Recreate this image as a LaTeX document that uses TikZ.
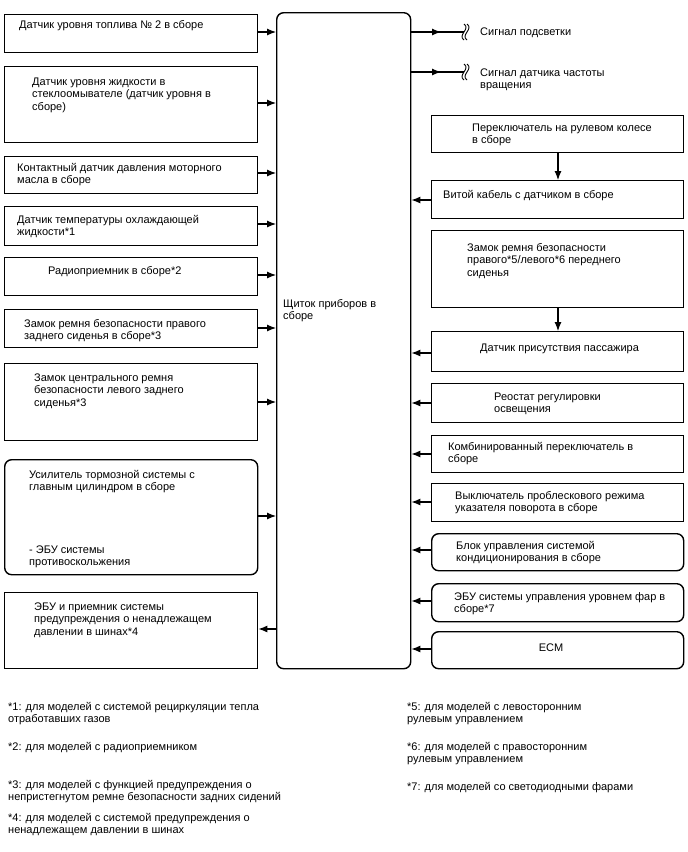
\documentclass[tikz,border=0pt]{standalone}
\usepackage{fontspec}
\setmainfont{Liberation Sans}
\usetikzlibrary{arrows.meta}
\newcommand{\ml}[1]{\begin{tabular}[t]{@{}l@{}}#1\end{tabular}}
\newcommand{\bx}[6][]{\node[box,#1,minimum width={#5-#3},minimum height={#6-#4}] (#2) at (#3,#4) {};}
\newcommand{\brk}[2]{%
  \draw[thin line] (#1+1,#2-8) .. controls (#1+8,#2-3) and (#1-6,#2+3) .. (#1+1,#2+8);
  \draw[thin line] (#1+4,#2-8) .. controls (#1+11,#2-3) and (#1-3,#2+3) .. (#1+4,#2+8);}
\begin{document}
\begin{tikzpicture}[x=1pt,y=-1pt,
  box/.style={draw, line width=1.4pt, inner sep=0pt, anchor=north west},
  rbox/.style={rounded corners=7pt},
  txt/.style={anchor=base west, inner sep=0pt, font=\fontsize{11}{12.8}\selectfont},
  arr/.style={line width=1.1pt, -{Latex[length=9pt,width=7pt]}},
  thin line/.style={line width=0.9pt},
  wire/.style={line width=1.1pt}]
\useasboundingbox (0,0) rectangle (688,852);
% central
\bx[rbox]{c}{276}{12}{410}{668}
\node[txt] (ct) at (283,307) {\ml{Щиток приборов в\\сборе}};
% left boxes
\bx{l1}{4}{14}{257}{52}
\node[txt] (tl1) at (19,28) {\ml{Датчик уровня топлива № 2 в сборе}};
\bx{l2}{4}{66}{257}{142}
\node[txt] (tl2) at (32,85) {\ml{Датчик уровня жидкости в\\стеклоомывателе (датчик уровня в\\сборе)}};
\bx{l3}{4}{156}{257}{193}
\node[txt] (tl3) at (17,171) {\ml{Контактный датчик давления моторного\\масла в сборе}};
\bx{l4}{4}{206}{257}{245}
\node[txt] (tl4) at (17,223) {\ml{Датчик температуры охлаждающей\\жидкости*1}};
\bx{l5}{4}{257}{257}{295}
\node[txt] (tl5) at (48,274) {\ml{Радиоприемник в сборе*2}};
\bx{l6}{4}{309}{257}{347}
\node[txt] (tl6) at (24,327) {\ml{Замок ремня безопасности правого\\заднего сиденья в сборе*3}};
\bx{l7}{4}{363}{257}{440}
\node[txt] (tl7) at (34,381) {\ml{Замок центрального ремня\\безопасности левого заднего\\сиденья*3}};
\bx[rbox]{l8}{4}{459}{257}{574}
\node[txt] (tl8) at (29,478) {\ml{Усилитель тормозной системы с\\главным цилиндром в сборе}};
\node[txt] (tl8b) at (29,553) {\ml{- ЭБУ системы\\противоскольжения}};
\bx{l9}{4}{592}{257}{668}
\node[txt] (tl9) at (34,610) {\ml{ЭБУ и приемник системы\\предупреждения о ненадлежащем\\давлении в шинах*4}};
% left arrows
\draw[arr] (l1.east |- 0,32) -- (c.west |- 0,32);
\draw[arr] (l2.east |- 0,103) -- (c.west |- 0,103);
\draw[arr] (l3.east |- 0,173) -- (c.west |- 0,173);
\draw[arr] (l4.east |- 0,224) -- (c.west |- 0,224);
\draw[arr] (l5.east |- 0,275) -- (c.west |- 0,275);
\draw[arr] (l6.east |- 0,328) -- (c.west |- 0,328);
\draw[arr] (l7.east |- 0,402) -- (c.west |- 0,402);
\draw[arr] (l8.east |- 0,516) -- (c.west |- 0,516);
\draw[arr] (c.west |- 0,629) -- (l9.east |- 0,629);
% signals
\coordinate (s1m) at (441,32);
\coordinate (s1e) at (464,32);
\coordinate (s2m) at (441,72);
\coordinate (s2e) at (464,72);
\draw[wire] (c.east |- 0,32) -- (s1e);
\draw[arr] (c.east |- 0,32) -- (s1m);
\draw[wire] (c.east |- 0,72) -- (s2e);
\draw[arr] (c.east |- 0,72) -- (s2m);
\brk{463}{32}
\brk{463}{72}
\node[txt] (sg1) at (480,35.5) {\ml{Сигнал подсветки}};
\node[txt] (sg2) at (480,76) {\ml{Сигнал датчика частоты\\вращения}};
% right boxes
\bx{r1}{431}{115}{683}{152}
\node[txt] (tr1) at (472,131) {\ml{Переключатель на рулевом колесе\\в сборе}};
\bx{r2}{431}{180}{683}{218}
\node[txt] (tr2) at (443,198) {\ml{Витой кабель с датчиком в сборе}};
\bx{r3}{431}{230}{683}{307}
\node[txt] (tr3) at (467,251) {\ml{Замок ремня безопасности\\правого*5/левого*6 переднего\\сиденья}};
\bx{r4}{431}{331}{683}{371}
\node[txt] (tr4) at (480,351) {\ml{Датчик присутствия пассажира}};
\bx{r5}{431}{383}{683}{422}
\node[txt] (tr5) at (494,400) {\ml{Реостат регулировки\\освещения}};
\bx{r6}{431}{435}{683}{472}
\node[txt] (tr6) at (448,450) {\ml{Комбинированный переключатель в\\сборе}};
\bx{r7}{431}{483}{683}{521}
\node[txt] (tr7) at (455,499) {\ml{Выключатель проблескового режима\\указателя поворота в сборе}};
\bx[rbox]{r8}{431}{533}{683}{570}
\node[txt] (tr8) at (456,549) {\ml{Блок управления системой\\кондиционирования в сборе}};
\bx[rbox]{r9}{431}{583}{683}{621}
\node[txt] (tr9) at (454,600) {\ml{ЭБУ системы управления уровнем фар в\\сборе*7}};
\bx[rbox]{r10}{431}{631}{683}{668}
\node[txt, anchor=base] (tr10) at (551,651) {ECM};
% right arrows
\draw[arr] (r1.south -| 558,0) -- (r2.north -| 558,0);
\draw[arr] (r3.south -| 558,0) -- (r4.north -| 558,0);
\draw[arr] (r2.west |- 0,200) -- (c.east |- 0,200);
\draw[arr] (r4.west |- 0,353) -- (c.east |- 0,353);
\draw[arr] (r5.west |- 0,403) -- (c.east |- 0,403);
\draw[arr] (r6.west |- 0,454) -- (c.east |- 0,454);
\draw[arr] (r7.west |- 0,502) -- (c.east |- 0,502);
\draw[arr] (r8.west |- 0,550) -- (c.east |- 0,550);
\draw[arr] (r9.west |- 0,601) -- (c.east |- 0,601);
\draw[arr] (r10.west |- 0,649) -- (c.east |- 0,649);
% footnotes
\node[txt] (f1) at (8,710) {\ml{*1: для моделей с системой рециркуляции тепла\\отработавших газов}};
\node[txt] (f2) at (8,750) {\ml{*2: для моделей с радиоприемником}};
\node[txt] (f3) at (8,788) {\ml{*3: для моделей с функцией предупреждения о\\непристегнутом ремне безопасности задних сидений}};
\node[txt] (f4) at (8,821) {\ml{*4: для моделей с системой предупреждения о\\ненадлежащем давлении в шинах}};
\node[txt] (f5) at (407,710) {\ml{*5: для моделей с левосторонним\\рулевым управлением}};
\node[txt] (f6) at (407,750) {\ml{*6: для моделей с правосторонним\\рулевым управлением}};
\node[txt] (f7) at (407,790) {\ml{*7: для моделей со светодиодными фарами}};
\end{tikzpicture}
\end{document}
